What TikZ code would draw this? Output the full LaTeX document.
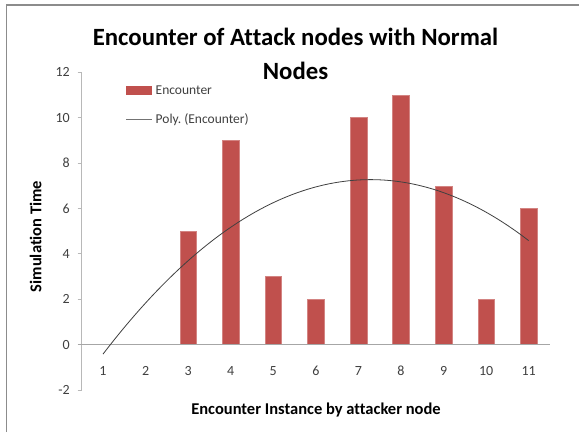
\documentclass[tikz,border=0pt]{standalone}
\usepackage{fontspec}
\setmainfont[Ligatures={NoCommon}]{Carlito}
\frenchspacing
\definecolor{barred}{HTML}{C0504D}
\definecolor{framegray}{HTML}{8C8C8C}
\definecolor{axisgray}{HTML}{A6A6A6}
\definecolor{ticktext}{HTML}{404040}
\begin{document}
\begin{tikzpicture}[x=1pt,y=-1pt,
  ticklabel/.style={font=\fontsize{14}{16}\selectfont, text=ticktext, inner sep=0pt},
  axtitle/.style={font=\fontsize{16.5}{19}\selectfont\bfseries, inner sep=0pt},
  legtext/.style={font=\fontsize{13.5}{16}\selectfont, text=ticktext, inner sep=0pt, anchor=west},
  charttitle/.style={font=\fontsize{24.8}{29}\selectfont\bfseries, inner sep=0pt, anchor=base},
  databar/.style={fill=barred, draw=barred!70!white, line width=0.4pt},
  trend/.style={draw=black!75, line width=0.8pt}]
  \useasboundingbox (0,0) rectangle (579,432);
  \fill[white] (0,0) rectangle (579,432);
  % chart frame: only its left and top edges fall on the page
  \draw[framegray, line width=1.3pt] (6.5,432) -- (6.5,5) -- (579,5);

  % data-to-page mapping
  \def\ox{81.7}\def\cw{42.57}\def\oy{344.6}\def\uy{22.7}

  % value axis with tick marks and labels
  \draw[black!28, line width=0.8pt] (\ox,{\oy-12*\uy}) -- (\ox,{\oy+2*\uy});
  \foreach \v in {-2,0,2,4,6,8,10,12} {
    \draw[black!28, line width=0.8pt] ({\ox-4},{\oy-\v*\uy}) -- (\ox,{\oy-\v*\uy});
    \node[ticklabel, anchor=east] (yl\v) at (70,{\oy-\v*\uy}) {\v};
  }

  % bars
  \foreach \i/\v in {3/5,4/9,5/3,6/2,7/10,8/11,9/7,10/2,11/6} {
    \fill[databar] ({\ox+(\i-0.5)*\cw-8.4},\oy) rectangle ({\ox+(\i-0.5)*\cw+8.4},{\oy-\v*\uy});
  }

  % category axis at zero
  \draw[axisgray, line width=0.9pt] ({\ox-3.5},\oy) -- ({\ox+11*\cw},\oy);
  \foreach \i in {1,...,11} {
    \node[ticklabel, anchor=base] (xl\i) at ({\ox+(\i-0.5)*\cw},375.5) {\i};
  }

  % second-order polynomial trend line
  \draw[trend] plot[domain=1:11, samples=80, smooth]
    ({\ox+(\x-0.5)*\cw}, {\oy-\uy*(6.9464+0.5*(\x-6)-0.19464*(\x-6)*(\x-6))});

  % titles
  \node[charttitle] (title) at (295.5,45.5) {Encounter of Attack nodes with Normal};
  \node[charttitle] (title2) at (295.5,79) {Nodes};
  \node[axtitle, anchor=base] (xtitle) at (316,414) {Encounter Instance by attacker node};
  \node[axtitle, rotate=90, anchor=base] (ytitle) at (41.5,236.5) {Simulation Time};

  % legend
  \fill[barred] (126,86) rectangle (152,94.5);
  \node[legtext] (leg1) at (155.5,90.5) {Encounter};
  \draw[black!55, line width=1pt] (126,119) -- (152,119);
  \node[legtext] (leg2) at (155.5,119.5) {Poly. (Encounter)};
\end{tikzpicture}
\end{document}
